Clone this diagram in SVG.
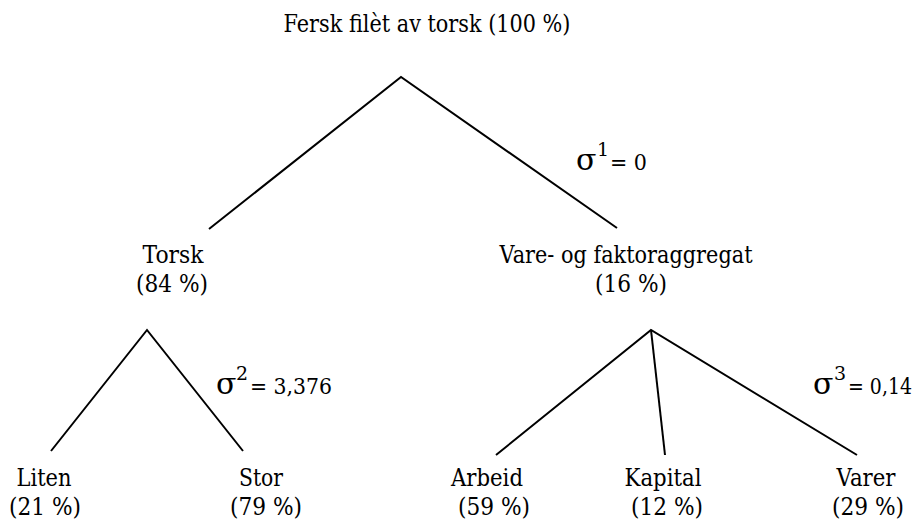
<svg xmlns="http://www.w3.org/2000/svg" width="921" height="522" viewBox="0 0 921 522">
<style>
text{font-family:'DejaVu Serif',serif;fill:#000}
.lbl{font-size:23.5px;text-anchor:middle}
.eq{font-size:23px}
.sig{font-size:30px}
.sup{font-size:19px}
.edge{stroke:#000;stroke-width:2;fill:none;stroke-linejoin:miter}
</style>
<rect width="921" height="522" fill="#fff"/>
<g id="connectors">
<polyline class="edge" points="209,229 401,77 617,228"/>
<polyline class="edge" points="51,451 147,330 243,451"/>
<polyline class="edge" points="496,455 651,330 857,455"/>
<line class="edge" x1="651" y1="330" x2="665" y2="455"/>
</g>
<g id="root"><text class="lbl" x="427" y="32" textLength="287" lengthAdjust="spacingAndGlyphs">Fersk filèt av torsk (100 %)</text></g>
<g id="torsk"><text class="lbl" x="173" y="263" textLength="61" lengthAdjust="spacingAndGlyphs">Torsk</text><text class="lbl" x="172" y="292" textLength="72" lengthAdjust="spacingAndGlyphs">(84 %)</text></g>
<g id="vare"><text class="lbl" x="626" y="263" textLength="253" lengthAdjust="spacingAndGlyphs">Vare- og faktoraggregat</text><text class="lbl" x="631" y="292" textLength="72" lengthAdjust="spacingAndGlyphs">(16 %)</text></g>
<g id="liten"><text class="lbl" x="44" y="486" textLength="55" lengthAdjust="spacingAndGlyphs">Liten</text><text class="lbl" x="45" y="515" textLength="72" lengthAdjust="spacingAndGlyphs">(21 %)</text></g>
<g id="stor"><text class="lbl" x="261" y="486" textLength="44" lengthAdjust="spacingAndGlyphs">Stor</text><text class="lbl" x="266" y="515" textLength="72" lengthAdjust="spacingAndGlyphs">(79 %)</text></g>
<g id="arbeid"><text class="lbl" x="487" y="486" textLength="72" lengthAdjust="spacingAndGlyphs">Arbeid</text><text class="lbl" x="494" y="515" textLength="72" lengthAdjust="spacingAndGlyphs">(59 %)</text></g>
<g id="kapital"><text class="lbl" x="663" y="486" textLength="77" lengthAdjust="spacingAndGlyphs">Kapital</text><text class="lbl" x="667" y="515" textLength="72" lengthAdjust="spacingAndGlyphs">(12 %)</text></g>
<g id="varer"><text class="lbl" x="866" y="486" textLength="59" lengthAdjust="spacingAndGlyphs">Varer</text><text class="lbl" x="868" y="515" textLength="72" lengthAdjust="spacingAndGlyphs">(29 %)</text></g>
<g id="sigma1"><text class="sig" x="576" y="170">σ</text><text class="sup" x="597" y="156">1</text><text class="eq" x="610" y="170" textLength="37" lengthAdjust="spacingAndGlyphs">= 0</text></g>
<g id="sigma2"><text class="sig" x="216" y="394">σ</text><text class="sup" x="236" y="380">2</text><text class="eq" x="250" y="394" textLength="82" lengthAdjust="spacingAndGlyphs">= 3,376</text></g>
<g id="sigma3"><text class="sig" x="813" y="394">σ</text><text class="sup" x="834" y="380">3</text><text class="eq" x="848" y="394" textLength="64" lengthAdjust="spacingAndGlyphs">= 0,14</text></g>
</svg>
